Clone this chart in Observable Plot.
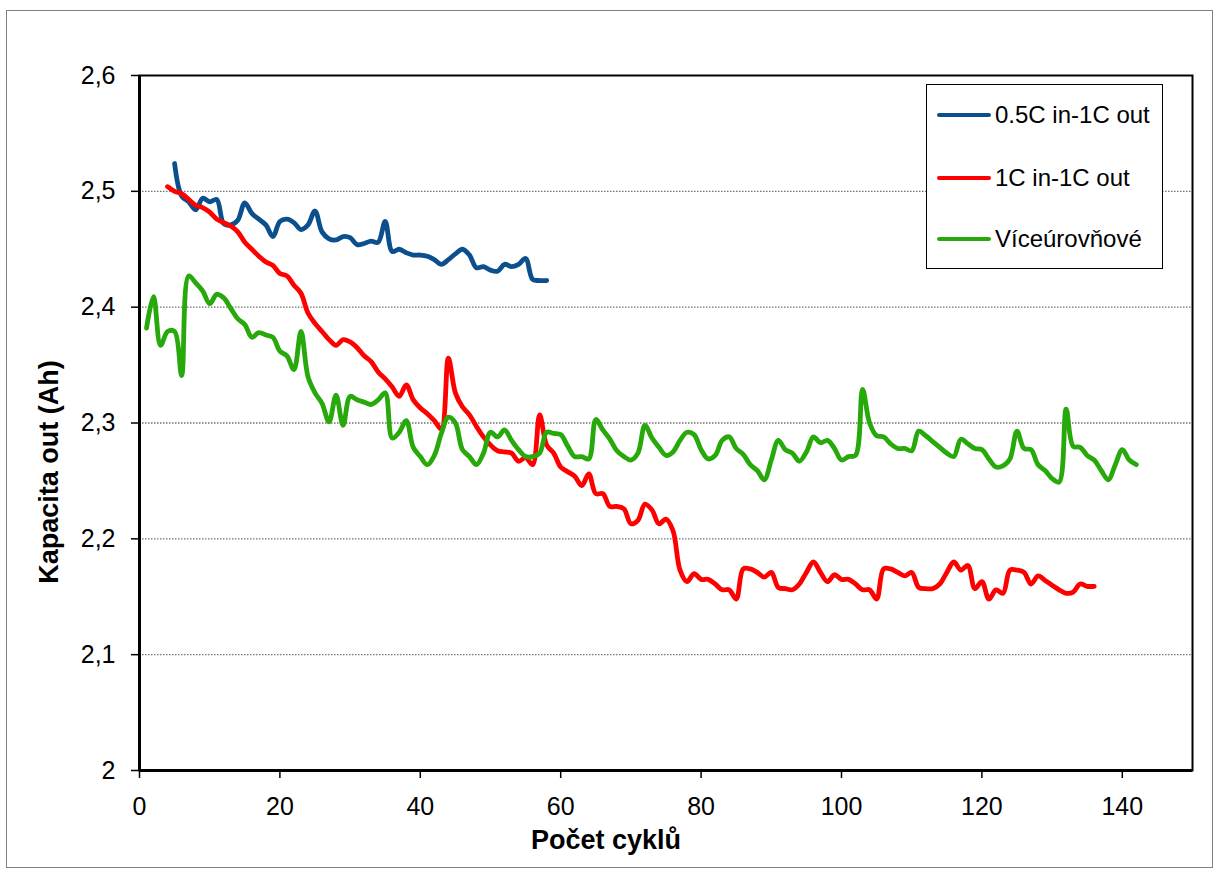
<!DOCTYPE html>
<html><head><meta charset="utf-8">
<script src="https://cdn.jsdelivr.net/npm/d3@7"></script>
<script src="https://cdn.jsdelivr.net/npm/@observablehq/plot@0.6"></script>
<style>
body{margin:0;background:#fff;font-family:"Liberation Sans",Arial,sans-serif;}
#wrap{position:relative;width:1219px;height:874px;overflow:hidden;}
#chart{position:absolute;left:0;top:0;}
#border{position:absolute;left:6px;top:10px;width:1207px;height:858px;border:1px solid #808080;box-sizing:border-box;pointer-events:none;}
#legend{position:absolute;left:926px;top:84px;width:237px;height:185px;border:1px solid #000;box-sizing:border-box;background:#fff;}
.row{position:absolute;left:10px;height:30px;display:flex;align-items:center;font-size:24px;color:#000;white-space:nowrap;}
.row .sw{display:inline-block;width:54px;height:4px;border-radius:2px;margin-right:4px;}
</style></head><body>
<div id="wrap"><div id="chart"></div><div id="border"></div><div id="legend"></div></div>
<script>
const seriesNames = ["0.5C in-1C out", "1C in-1C out", "Víceúrovňové"];
const seriesColors = ["#0b4f8c", "#ff0000", "#27a80b"];
const seriesStart = [5, 4, 1];

const blueValues = [2.524,2.496,2.491,2.484,2.494,2.491,2.493,2.472,2.471,2.475,
2.490,2.481,2.476,2.471,2.461,2.474,2.476,2.473,2.467,2.471,
2.483,2.465,2.459,2.458,2.461,2.460,2.454,2.455,2.457,2.456,
2.474,2.448,2.450,2.447,2.445,2.445,2.444,2.441,2.437,2.441,
2.446,2.450,2.445,2.434,2.435,2.432,2.431,2.437,2.435,2.437,
2.442,2.424,2.423,2.423];

const redValues = [2.504,2.500,2.498,2.493,2.488,2.486,2.482,2.476,2.473,2.470,
2.465,2.456,2.450,2.444,2.439,2.436,2.429,2.427,2.419,2.412,
2.395,2.386,2.379,2.372,2.367,2.372,2.370,2.365,2.358,2.353,
2.344,2.338,2.331,2.323,2.333,2.320,2.313,2.308,2.302,2.295,
2.356,2.326,2.314,2.307,2.297,2.288,2.281,2.276,2.275,2.274,
2.267,2.270,2.264,2.307,2.281,2.274,2.262,2.258,2.254,2.246,
2.256,2.239,2.239,2.228,2.228,2.226,2.213,2.216,2.230,2.225,
2.213,2.217,2.207,2.173,2.163,2.170,2.165,2.165,2.161,2.156,
2.156,2.148,2.174,2.174,2.171,2.167,2.171,2.158,2.157,2.156,
2.161,2.171,2.180,2.171,2.163,2.169,2.165,2.165,2.161,2.156,
2.156,2.148,2.174,2.174,2.171,2.168,2.171,2.158,2.157,2.157,
2.161,2.171,2.180,2.173,2.177,2.157,2.163,2.148,2.156,2.153,
2.173,2.173,2.171,2.161,2.168,2.164,2.160,2.156,2.153,2.154,
2.161,2.159,2.159];

const greenValues = [2.382,2.409,2.367,2.379,2.379,2.341,2.427,2.421,2.414,2.403,
2.411,2.408,2.399,2.390,2.385,2.374,2.378,2.376,2.374,2.362,
2.358,2.346,2.379,2.340,2.326,2.317,2.301,2.324,2.298,2.323,
2.320,2.318,2.316,2.320,2.326,2.287,2.292,2.302,2.279,2.271,
2.264,2.272,2.291,2.305,2.300,2.277,2.271,2.264,2.274,2.292,
2.288,2.294,2.285,2.277,2.271,2.271,2.274,2.292,2.291,2.290,
2.280,2.271,2.271,2.269,2.303,2.294,2.286,2.276,2.271,2.268,
2.274,2.298,2.287,2.279,2.272,2.275,2.285,2.292,2.290,2.277,
2.269,2.272,2.285,2.288,2.278,2.273,2.264,2.259,2.251,2.268,
2.285,2.277,2.274,2.267,2.275,2.288,2.283,2.285,2.278,2.268,
2.271,2.272,2.329,2.300,2.289,2.288,2.282,2.278,2.278,2.276,
2.293,2.289,2.284,2.279,2.274,2.271,2.286,2.282,2.278,2.277,
2.269,2.262,2.263,2.269,2.293,2.278,2.277,2.264,2.259,2.252,
2.249,2.312,2.280,2.279,2.272,2.268,2.259,2.251,2.264,2.277,
2.268,2.264];

const xTicks = [0, 20, 40, 60, 80, 100, 120, 140];
const yTicks = [2, 2.1, 2.2, 2.3, 2.4, 2.5, 2.6];
const yGrid = [2.1, 2.2, 2.3, 2.4, 2.5];
const xTitle = "Počet cyklů";
const yTitle = "Kapacita out (Ah)";

const allValues = [blueValues, redValues, greenValues];
const data = allValues.flatMap((vals, s) =>
  vals.map((v, i) => ({series: seriesNames[s], cycle: seriesStart[s] + i, cap: v})));

const chart = Plot.plot({
  width: 1219, height: 874,
  marginLeft: 139, marginRight: 27, marginTop: 75, marginBottom: 104,
  style: {fontFamily: '"Liberation Sans", Arial, sans-serif', fontSize: "25px", background: "transparent", color: "#000", overflow: "visible"},
  x: {domain: [0, 150]},
  y: {domain: [2, 2.6]},
  color: {domain: seriesNames, range: seriesColors},
  marks: [
    Plot.ruleY(yGrid, {stroke: "#707070", strokeDasharray: "1.5,1.5", strokeWidth: 1.3}),
    Plot.lineY(data, {x: "cycle", y: "cap", z: "series", stroke: "series", strokeWidth: 4.8, curve: "catmull-rom", strokeLinejoin: "round", strokeLinecap: "round"}),
    Plot.frame({stroke: "#000", strokeWidth: 2}),
    Plot.ruleX([0], {stroke: "#000", strokeWidth: 3}),
    Plot.ruleY([2], {stroke: "#000", strokeWidth: 3}),
    Plot.axisX(xTicks, {tickSize: 8, tickPadding: 19, label: null, fontSize: 25, strokeWidth: 1.5}),
    Plot.axisY(yTicks, {tickSize: 8, tickPadding: 16, label: null, fontSize: 25, strokeWidth: 1.5,
      tickFormat: d => String(d).replace(".", ",")}),
    Plot.text([xTitle], {text: d => d, frameAnchor: "bottom", lineAnchor: "middle", textAnchor: "middle", dx: -60, dy: 70, fontWeight: "bold", fontSize: 27}),
    Plot.text([yTitle], {text: d => d, frameAnchor: "left", lineAnchor: "middle", textAnchor: "middle", rotate: -90, dx: -90, dy: 49, fontWeight: "bold", fontSize: 27})
  ]
});
document.getElementById("chart").appendChild(chart);

const legend = document.getElementById("legend");
const rowCenters = [30, 93, 154];
seriesNames.forEach((n, i) => {
  const row = document.createElement("div");
  row.className = "row";
  row.style.top = (rowCenters[i] - 15) + "px";
  const sw = document.createElement("span");
  sw.className = "sw";
  sw.style.background = seriesColors[i];
  row.appendChild(sw);
  row.appendChild(document.createTextNode(n));
  legend.appendChild(row);
});
</script>
</body></html>
